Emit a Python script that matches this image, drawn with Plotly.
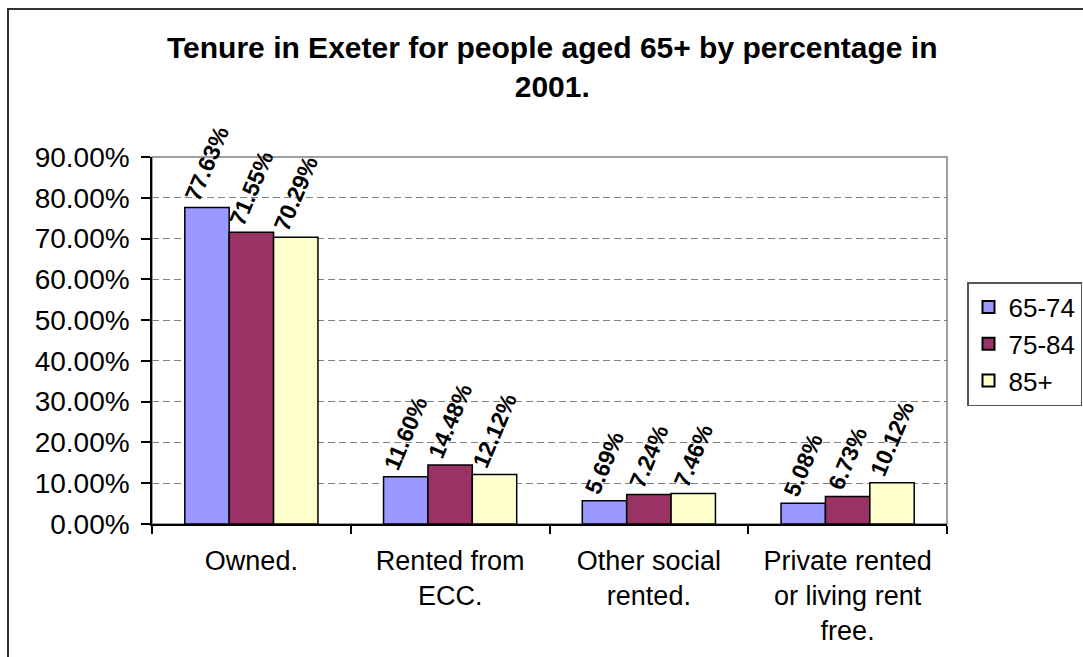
import plotly.graph_objects as go

# Tenure categories and percentage shares by age band
categories = ["Owned.", "Rented from<br>ECC.", "Other social<br>rented.",
              "Private rented<br>or living rent<br>free."]
age_groups = ["65-74", "75-84", "85+"]
share_65_74 = [77.63, 11.60, 5.69, 5.08]
share_75_84 = [71.55, 14.48, 7.24, 6.73]
share_85_plus = [70.29, 12.12, 7.46, 10.12]
series_values = [share_65_74, share_75_84, share_85_plus]
series_colors = ["#9999FF", "#993366", "#FFFFCC"]

y_ticks = [0, 10, 20, 30, 40, 50, 60, 70, 80, 90]

W, H = 1083, 657
L, R, T, B = 152, 947, 157, 524  # plot area in pixels

FONT = "Liberation Sans, Arial, sans-serif"

fig = go.Figure()
for name, vals, col in zip(age_groups, series_values, series_colors):
    fig.add_trace(go.Bar(
        x=categories, y=vals, name=name,
        marker=dict(color=col, line=dict(color="black", width=1.5)),
        text=[f"{v:.2f}%" for v in vals],
        textposition="outside", textangle=-67, constraintext="none",
        textfont=dict(family=FONT, size=23, color="black", weight="bold"),
        cliponaxis=False,
    ))


def px_x(p):
    return (p - L) / (R - L)


def px_y(p):
    return (B - p) / (B - T)


fig.update_layout(
    width=W, height=H,
    margin=dict(l=L, r=W - R, t=T, b=H - B, pad=0, autoexpand=False),
    paper_bgcolor="white", plot_bgcolor="white",
    barmode="group", bargap=0.33, bargroupgap=0,
    showlegend=True,
    legend=dict(
        x=px_x(967), y=px_y(282), xanchor="left", yanchor="top",
        bordercolor="#555555", borderwidth=1.5, bgcolor="white",
        font=dict(family=FONT, size=26, color="black"),
        itemsizing="constant", tracegroupgap=0,
    ),
    font=dict(family=FONT, color="black"),
    xaxis=dict(
        type="category", tickson="boundaries", ticks="outside", ticklen=8,
        tickcolor="black", tickwidth=1.5,
        showline=True, linecolor="black", linewidth=1.5,
        showgrid=False, ticklabelstandoff=12,
        tickfont=dict(family=FONT, size=27, color="black"),
    ),
    yaxis=dict(
        range=[0, 90], tickvals=y_ticks,
        ticktext=[f"{v:.2f}%" for v in y_ticks],
        ticks="outside", ticklen=9, tickcolor="black", tickwidth=1.5,
        showline=True, linecolor="black", linewidth=1.5,
        showgrid=True, gridcolor="#808080", gridwidth=1, griddash="7px,4px",
        zeroline=False, ticklabelstandoff=6,
        tickfont=dict(family=FONT, size=28, color="black"),
    ),
    shapes=[
        # plot area frame
        dict(type="rect", xref="paper", yref="paper", x0=0, x1=1, y0=0, y1=1,
             line=dict(color="#808080", width=1.5), layer="below"),
        # chart area frame
        dict(type="rect", xref="paper", yref="paper",
             x0=px_x(8), x1=px_x(1100), y0=px_y(680), y1=px_y(9),
             line=dict(color="#333333", width=2), layer="above"),
    ],
    annotations=[
        dict(text="<b>Tenure in Exeter for people aged 65+ by percentage in<br>2001.</b>",
             xref="paper", yref="paper", x=px_x(552), y=px_y(29),
             xanchor="center", yanchor="top", showarrow=False, align="center",
             font=dict(family=FONT, size=30, color="black")),
    ],
)

fig.write_html("out.html")
